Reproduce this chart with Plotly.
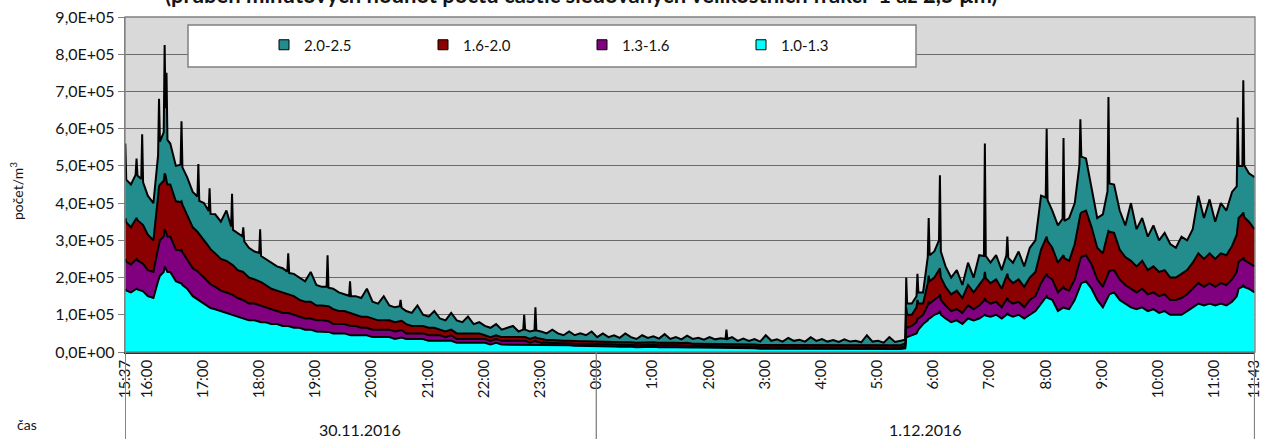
import pandas as pd
import plotly.graph_objects as go

# Particle counts (thousands per m3), 30.11.2016 15:37 -> 1.12.2016 11:43.
# minutes = minutes elapsed since START for each sample.
START = "2016-11-30 15:37"

minutes = [
    0, 1, 6, 11, 12, 13, 17, 18, 19, 24,
    30, 35, 36, 37, 41, 42, 43, 44, 45, 48,
    54, 59, 60, 61, 66, 72, 77, 78, 79, 84,
    89, 90, 91, 96, 102, 108, 113, 114, 115, 120,
    125, 126, 127, 132, 138, 143, 144, 145, 150, 156,
    162, 168, 173, 174, 175, 180, 186, 192, 198, 204,
    210, 215, 216, 217, 222, 228, 234, 239, 240, 241,
    246, 252, 258, 264, 270, 276, 282, 288, 293, 294,
    295, 300, 306, 312, 318, 324, 330, 336, 342, 348,
    354, 360, 366, 372, 378, 384, 390, 396, 402, 408,
    414, 420, 425, 426, 427, 432, 437, 438, 439, 444,
    450, 456, 462, 468, 474, 480, 486, 492, 498, 504,
    510, 516, 522, 528, 534, 540, 546, 552, 558, 564,
    570, 576, 582, 588, 594, 600, 606, 612, 618, 624,
    630, 636, 641, 642, 643, 648, 654, 660, 666, 672,
    678, 684, 690, 696, 702, 708, 714, 720, 726, 732,
    738, 744, 750, 756, 762, 768, 774, 780, 786, 792,
    798, 804, 810, 816, 822, 828, 833, 834, 835, 840,
    845, 846, 847, 852, 857, 858, 859, 864, 869, 870,
    871, 876, 882, 888, 894, 900, 906, 912, 917, 918,
    919, 924, 930, 936, 941, 942, 943, 948, 954, 960,
    966, 972, 978, 983, 984, 985, 990, 996, 1001, 1002,
    1003, 1008, 1014, 1019, 1020, 1021, 1026, 1032, 1038, 1044,
    1049, 1050, 1051, 1056, 1062, 1068, 1074, 1080, 1086, 1092,
    1098, 1104, 1110, 1116, 1122, 1128, 1134, 1140, 1146, 1152,
    1158, 1164, 1170, 1176, 1182, 1187, 1188, 1189, 1193, 1194,
    1195, 1200, 1206,
]

frac_10_13 = [
    170, 165, 160, 168, 170, 168, 165, 165, 163, 150,
    145, 190, 200, 205, 215, 230, 225, 220, 215, 215,
    190, 185, 185, 180, 170, 150, 142, 140, 138, 130,
    122, 120, 118, 115, 110, 105, 101, 100, 99, 95,
    91, 90, 89, 85, 85, 81, 80, 80, 80, 75,
    75, 70, 70, 70, 69, 65, 65, 60, 60, 55,
    55, 55, 55, 54, 50, 50, 50, 46, 45, 45,
    45, 45, 45, 40, 40, 40, 40, 35, 38, 40,
    39, 35, 35, 35, 35, 30, 30, 30, 30, 30,
    25, 25, 25, 25, 25, 25, 20, 25, 20, 20,
    20, 20, 20, 20, 20, 20, 20, 20, 20, 20,
    20, 20, 18, 18, 18, 17, 17, 17, 17, 15,
    15, 15, 15, 14, 15, 14, 13, 14, 13, 14,
    13, 14, 13, 13, 12, 13, 12, 12, 12, 12,
    11, 11, 11, 11, 11, 11, 10, 10, 10, 10,
    9, 10, 9, 9, 9, 9, 9, 9, 8, 9,
    8, 8, 8, 8, 8, 8, 8, 8, 7, 8,
    7, 7, 7, 7, 8, 8, 10, 40, 40, 45,
    50, 55, 60, 75, 85, 90, 90, 100, 105, 110,
    100, 90, 80, 85, 75, 90, 85, 90, 98, 100,
    98, 95, 100, 90, 100, 105, 100, 95, 100, 90,
    100, 110, 130, 145, 150, 145, 140, 110, 118, 120,
    118, 115, 140, 175, 180, 185, 190, 170, 140, 120,
    145, 150, 155, 160, 140, 130, 120, 115, 120, 110,
    115, 105, 110, 100, 100, 100, 110, 120, 130, 125,
    130, 125, 130, 125, 135, 150, 165, 170, 175, 180,
    175, 170, 160,
]

frac_13_16 = [
    80, 78, 75, 80, 80, 78, 75, 75, 74, 70,
    70, 88, 95, 95, 95, 100, 100, 95, 95, 95,
    85, 88, 90, 88, 80, 75, 75, 75, 74, 70,
    66, 65, 64, 60, 55, 55, 55, 55, 54, 50,
    50, 50, 49, 45, 45, 45, 45, 44, 40, 40,
    35, 35, 35, 35, 35, 35, 30, 30, 30, 30,
    30, 30, 30, 29, 25, 25, 25, 25, 25, 25,
    25, 20, 20, 20, 20, 20, 20, 20, 20, 20,
    20, 15, 15, 15, 15, 15, 15, 15, 10, 15,
    10, 10, 10, 10, 10, 10, 10, 10, 10, 10,
    10, 10, 10, 10, 10, 5, 8, 10, 8, 5,
    5, 5, 5, 5, 5, 5, 5, 5, 5, 5,
    5, 5, 5, 5, 5, 5, 5, 5, 5, 5,
    5, 5, 5, 5, 5, 5, 4, 4, 4, 4,
    4, 4, 4, 4, 4, 4, 4, 4, 4, 4,
    4, 4, 4, 4, 4, 4, 4, 4, 4, 4,
    4, 4, 4, 4, 4, 4, 4, 4, 4, 4,
    4, 4, 4, 4, 4, 4, 5, 30, 25, 25,
    30, 35, 30, 25, 40, 45, 40, 40, 45, 45,
    40, 35, 30, 30, 30, 35, 30, 35, 40, 45,
    40, 35, 35, 30, 40, 40, 38, 35, 35, 30,
    40, 40, 55, 60, 60, 58, 55, 50, 55, 55,
    52, 50, 55, 70, 70, 70, 70, 65, 55, 55,
    62, 65, 63, 60, 55, 50, 50, 45, 50, 45,
    45, 45, 45, 40, 40, 45, 45, 50, 55, 50,
    55, 50, 55, 55, 60, 65, 70, 72, 75, 75,
    72, 70, 70,
]

frac_16_20 = [
    110, 105, 100, 108, 110, 108, 105, 105, 104, 95,
    85, 140, 150, 150, 150, 150, 150, 145, 140, 140,
    130, 130, 130, 128, 120, 110, 106, 105, 104, 100,
    96, 95, 94, 90, 85, 85, 81, 80, 80, 75,
    75, 75, 74, 70, 65, 65, 65, 64, 60, 55,
    55, 55, 51, 50, 50, 50, 45, 45, 45, 40,
    40, 40, 40, 40, 40, 35, 35, 35, 35, 35,
    30, 30, 30, 30, 25, 25, 25, 25, 25, 25,
    25, 25, 20, 20, 20, 20, 20, 15, 15, 15,
    15, 15, 15, 15, 15, 10, 10, 10, 10, 10,
    10, 10, 10, 10, 10, 10, 10, 10, 10, 10,
    7, 7, 7, 7, 7, 7, 7, 7, 7, 7,
    7, 7, 7, 7, 7, 7, 7, 7, 7, 7,
    7, 7, 7, 7, 7, 7, 6, 6, 6, 6,
    6, 6, 6, 6, 6, 6, 6, 6, 6, 6,
    6, 6, 6, 6, 6, 6, 6, 6, 6, 6,
    6, 6, 6, 6, 6, 6, 6, 6, 6, 6,
    6, 6, 6, 6, 6, 6, 8, 50, 35, 30,
    40, 50, 40, 30, 60, 70, 60, 60, 70, 70,
    60, 50, 45, 50, 40, 55, 45, 55, 60, 70,
    60, 55, 60, 50, 60, 65, 60, 55, 60, 55,
    60, 65, 90, 100, 100, 95, 85, 80, 85, 85,
    82, 80, 95, 118, 120, 120, 120, 100, 85, 90,
    105, 110, 105, 100, 80, 75, 75, 70, 75, 65,
    70, 65, 65, 60, 60, 65, 65, 70, 80, 75,
    80, 75, 80, 80, 90, 100, 115, 118, 120, 120,
    115, 110, 100,
]

frac_20_25 = [
    200, 115, 115, 120, 160, 120, 120, 240, 115, 105,
    100, 110, 235, 115, 130, 345, 180, 290, 120, 110,
    95, 100, 215, 100, 100, 95, 95, 185, 90, 100,
    95, 160, 95, 105, 100, 135, 100, 190, 95, 100,
    95, 120, 85, 80, 75, 75, 140, 70, 70, 70,
    65, 65, 60, 110, 58, 60, 60, 55, 80, 55,
    50, 50, 135, 50, 55, 50, 45, 45, 85, 45,
    50, 50, 75, 45, 45, 65, 40, 40, 40, 55,
    35, 35, 35, 55, 30, 30, 45, 30, 30, 45,
    35, 30, 45, 25, 30, 25, 25, 30, 20, 25,
    30, 15, 20, 60, 20, 20, 20, 80, 20, 20,
    18, 28, 20, 15, 25, 16, 21, 16, 26, 13,
    23, 13, 18, 12, 23, 14, 10, 19, 13, 16,
    11, 22, 10, 15, 10, 19, 13, 16, 11, 18,
    13, 16, 14, 39, 14, 19, 10, 16, 10, 15,
    9, 25, 11, 15, 9, 19, 11, 14, 10, 21,
    12, 17, 10, 14, 9, 16, 10, 12, 9, 27,
    11, 13, 8, 23, 9, 12, 10, 80, 30, 30,
    30, 70, 30, 30, 70, 155, 70, 70, 80, 250,
    70, 55, 45, 55, 35, 60, 40, 80, 60, 345,
    60, 55, 65, 50, 60, 100, 55, 55, 75, 55,
    80, 85, 145, 110, 290, 110, 100, 100, 100, 315,
    100, 115, 110, 140, 255, 150, 140, 105, 80, 105,
    120, 360, 130, 130, 105, 85, 155, 100, 115, 90,
    110, 85, 100, 90, 80, 100, 80, 90, 155, 110,
    145, 100, 135, 120, 145, 130, 280, 140, 130, 355,
    140, 130, 140,
]

series_names = ["1.0-1.3", "1.3-1.6", "1.6-2.0", "2.0-2.5"]
legend_order = ["2.0-2.5", "1.6-2.0", "1.3-1.6", "1.0-1.3"]

tick_times = [
    "2016-11-30 15:37", "2016-11-30 16:00", "2016-11-30 17:00", "2016-11-30 18:00",
    "2016-11-30 19:00", "2016-11-30 20:00", "2016-11-30 21:00", "2016-11-30 22:00",
    "2016-11-30 23:00", "2016-12-01 00:00", "2016-12-01 01:00", "2016-12-01 02:00",
    "2016-12-01 03:00", "2016-12-01 04:00", "2016-12-01 05:00", "2016-12-01 06:00",
    "2016-12-01 07:00", "2016-12-01 08:00", "2016-12-01 09:00", "2016-12-01 10:00",
    "2016-12-01 11:00", "2016-12-01 11:43",
]
tick_labels = [
    "15:37", "16:00", "17:00", "18:00", "19:00", "20:00", "21:00", "22:00", "23:00",
    "0:00", "1:00", "2:00", "3:00", "4:00", "5:00", "6:00", "7:00", "8:00", "9:00",
    "10:00", "11:00", "11:43",
]
day_labels = ["30.11.2016", "1.12.2016"]
day_bounds = ["2016-11-30 15:37", "2016-12-01 00:00", "2016-12-01 11:43"]

y_tick_vals = [0, 100000, 200000, 300000, 400000, 500000, 600000, 700000, 800000, 900000]
y_tick_text = ["0,0E+00", "1,0E+05", "2,0E+05", "3,0E+05", "4,0E+05",
               "5,0E+05", "6,0E+05", "7,0E+05", "8,0E+05", "9,0E+05"]

colors = {
    "1.0-1.3": "#00FFFF",
    "1.3-1.6": "#800080",
    "1.6-2.0": "#8B0000",
    "2.0-2.5": "#238C8C",
}

data = {
    "1.0-1.3": frac_10_13,
    "1.3-1.6": frac_13_16,
    "1.6-2.0": frac_16_20,
    "2.0-2.5": frac_20_25,
}
for v in data.values():
    assert len(v) == len(minutes)

times = pd.Timestamp(START) + pd.to_timedelta(minutes, unit="min")

FONT = "Lato, 'Open Sans', sans-serif"
TXT = "#141414"
fig = go.Figure()

for name in series_names:
    fig.add_trace(go.Scatter(
        x=times, y=[v * 1000 for v in data[name]], name=name,
        stackgroup="one", mode="lines",
        line=dict(color="black", width=2),
        fillcolor=colors[name], showlegend=False, hoverinfo="skip",
    ))

for name in legend_order:
    fig.add_trace(go.Scatter(
        x=[None], y=[None], name=name, mode="markers",
        marker=dict(symbol="square", size=10, color=colors[name],
                    line=dict(color="black", width=1)),
        showlegend=True,
    ))

W, H = 1261, 439
L, R, T, B = 125, 6, 17, 87
pw, ph = W - L - R, H - T - B


def px_x(p):
    return (p - L) / pw


def px_y(p):
    return (H - B - p) / ph


fig.update_layout(
    width=W, height=H,
    margin=dict(l=L, r=R, t=T, b=B, autoexpand=False),
    paper_bgcolor="white",
    plot_bgcolor="#D9D9D9",
    font=dict(family=FONT, size=14, color=TXT),
    showlegend=True,
    legend=dict(
        orientation="h", x=px_x(264), y=px_y(45), xanchor="left", yanchor="middle",
        bgcolor="rgba(0,0,0,0)", borderwidth=0,
        entrywidth=114, entrywidthmode="pixels",
        font=dict(family=FONT, size=15, color=TXT),
        traceorder="normal",
    ),
    xaxis=dict(
        range=["2016-11-30 15:36:40", "2016-12-01 11:43:30"],
        tickmode="array", tickvals=tick_times, ticktext=tick_labels,
        tickangle=-90, tickfont=dict(size=15, color=TXT),
        ticklabeloverflow="allow", automargin=False,
        showgrid=False, zeroline=False, ticks="",
        showline=True, linecolor="#1a3a3a", linewidth=1.5,
    ),
    yaxis=dict(
        range=[0, 900000], automargin=False,
        tickmode="array", tickvals=y_tick_vals, ticktext=y_tick_text,
        tickfont=dict(size=16, color=TXT),
        showgrid=True, gridcolor="#6a6a6a", gridwidth=1.4,
        zeroline=False, showline=True, linecolor="#808080", linewidth=1.3,
        ticks="outside", ticklen=6, tickcolor="#808080",
    ),
    shapes=[
        dict(type="rect", xref="paper", yref="paper", x0=0, x1=1, y0=0, y1=1,
             line=dict(color="#808080", width=1.3), fillcolor="rgba(0,0,0,0)", layer="above"),
        dict(type="rect", xref="paper", yref="paper",
             x0=px_x(188), x1=px_x(916), y0=px_y(67), y1=px_y(25),
             line=dict(color="#808080", width=1.5), fillcolor="white", layer="above"),
    ] + [
        dict(type="line", xref="x", yref="paper", x0=b, x1=b, y0=0, y1=px_y(H),
             line=dict(color="#808080", width=1.3))
        for b in day_bounds
    ],
    annotations=[
        dict(text="<b>(průběh minutových hodnot počtu částic sledovaných velikostních frakcí  1 až 2,5 µm)</b>",
             xref="paper", yref="paper", x=px_x(581), y=px_y(-5),
             xanchor="center", yanchor="middle", showarrow=False,
             font=dict(family=FONT, size=22, color=TXT)),
        dict(text="počet/m<sup>3</sup>", xref="paper", yref="paper",
             x=px_x(16), y=px_y(191), xanchor="center", yanchor="middle",
             textangle=-90, showarrow=False, font=dict(family=FONT, size=14, color=TXT)),
        dict(text="čas", xref="paper", yref="paper", x=px_x(27), y=px_y(424),
             xanchor="center", yanchor="middle", showarrow=False,
             font=dict(family=FONT, size=14, color=TXT)),
        dict(text=day_labels[0], xref="paper", yref="paper", x=px_x(360), y=px_y(429),
             xanchor="center", yanchor="middle", showarrow=False,
             font=dict(family=FONT, size=16, color=TXT)),
        dict(text=day_labels[1], xref="paper", yref="paper", x=px_x(925), y=px_y(429),
             xanchor="center", yanchor="middle", showarrow=False,
             font=dict(family=FONT, size=16, color=TXT)),
    ],
)

fig.write_html("out.html", config={"displayModeBar": False},
               post_script="document.body.style.margin='0px';")
